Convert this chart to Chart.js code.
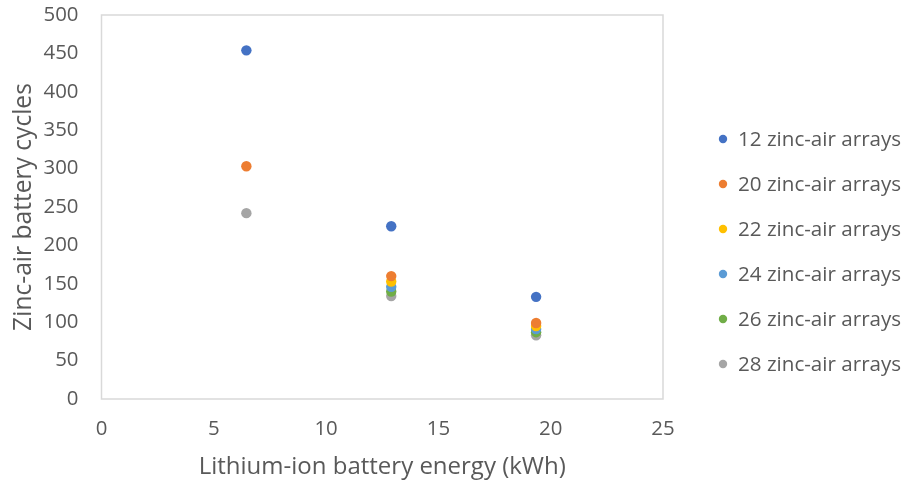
<!DOCTYPE html>
<html>
<head>
<meta charset="utf-8">
<script src="https://cdn.jsdelivr.net/npm/chart.js@4/dist/chart.umd.min.js"></script>
<style>
html,body{margin:0;padding:0;background:#fff;}
#wrap{width:906px;height:486px;position:relative;}
</style>
</head>
<body>
<div id="wrap"><canvas id="c" width="906" height="486"></canvas></div>
<script>
const energy = [6.45, 12.9, 19.35];
const seriesLabels = ["12 zinc-air arrays","20 zinc-air arrays","22 zinc-air arrays","24 zinc-air arrays","26 zinc-air arrays","28 zinc-air arrays"];
const arr12 = [454, 225, 133];
const arr20 = [303, 160, 99];
const arr22 = [null, 153, 95];
const arr24 = [null, 146, 91];
const arr26 = [null, 140, 87];
const arr28 = [242, 134, 83];
const colors = ["#4472C4","#ED7D31","#FFC000","#5B9BD5","#70AD47","#A5A5A5"];
const xTicks = [0,5,10,15,20,25];
const yTicks = [0,50,100,150,200,250,300,350,400,450,500];
const xTitle = 'Lithium-ion battery energy (kWh)';
const yTitle = 'Zinc-air battery cycles';

const FONT = "'Open Sans', sans-serif";
const mctx = document.createElement('canvas').getContext('2d');
function fit(text, target) {
  mctx.font = "100px " + FONT;
  return Math.round(100 * target / mctx.measureText(text).width * 10) / 10;
}
const tickSize = fit('500', 35);
const legendSize = fit(seriesLabels[0], 163);
const xTitleSize = fit(xTitle, 367);
const yTitleSize = fit(yTitle, 248);

const seriesValues = [arr12, arr20, arr22, arr24, arr26, arr28];
const datasets = seriesValues.map((vals, i) => ({
  label: seriesLabels[i],
  data: energy.map((x, j) => ({x: x, y: vals[j]})).filter(p => p.y !== null),
  backgroundColor: colors[i],
  borderColor: colors[i],
  pointRadius: 5.2,
  pointHoverRadius: 5.2,
  borderWidth: 0
}));

const frame = {
  id: 'frame',
  afterDraw(chart) {
    const a = chart.chartArea, ctx = chart.ctx;
    ctx.save();
    ctx.strokeStyle = '#d9d9d9';
    ctx.lineWidth = 1.5;
    ctx.strokeRect(a.left, a.top, a.right - a.left, a.bottom - a.top);
    ctx.restore();
    // legend
    ctx.save();
    ctx.font = legendSize + "px " + FONT;
    ctx.textBaseline = 'middle';
    const x0 = 723, y0 = 139, step = 45;
    chart.data.datasets.forEach((d, i) => {
      const y = y0 + i*step;
      ctx.fillStyle = d.backgroundColor;
      ctx.beginPath(); ctx.arc(x0, y, 4.2, 0, Math.PI*2); ctx.fill();
      ctx.fillStyle = '#595959';
      ctx.fillText(d.label, 738, y + 1);
    });
    ctx.restore();
  }
};

new Chart(document.getElementById('c'), {
  type: 'scatter',
  data: {datasets},
  plugins: [frame],
  options: {
    responsive: false,
    animation: false,
    layout: {padding: {left: 0, right: 243, top: 15, bottom: 0}},
    plugins: {legend: {display: false}, tooltip: {enabled: false}},
    scales: {
      x: {
        type: 'linear', min: 0, max: 25,
        afterBuildTicks(s){ s.ticks = xTicks.map(v => ({value: v})); },
        afterFit(s){ s.height = 87; s.paddingRight = 0; s.paddingLeft = 0; },
        grid: {display: false, drawTicks: false},
        border: {display: false},
        ticks: {color: '#595959', font: {family: FONT, size: tickSize}, padding: 18},
        title: {display: true, text: xTitle, color: '#595959', font: {family: FONT, size: xTitleSize}, padding: {top: 8}}
      },
      y: {
        type: 'linear', min: 0, max: 500,
        afterBuildTicks(s){ s.ticks = yTicks.map(v => ({value: v})); },
        afterFit(s){ s.width = 101.5; s.paddingTop = 0; s.paddingBottom = 0; },
        grid: {display: false, drawTicks: false},
        border: {display: false},
        ticks: {color: '#595959', font: {family: FONT, size: tickSize}, padding: 23},
        title: {display: true, text: yTitle, color: '#595959', font: {family: FONT, size: yTitleSize}, padding: {top: 9, bottom: 4}}
      }
    }
  }
});
</script>
</body>
</html>
